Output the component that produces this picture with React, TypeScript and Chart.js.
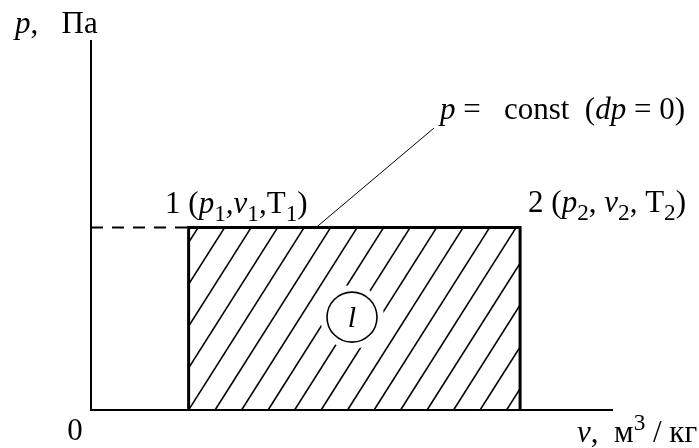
import React, { useEffect, useRef } from "react";
import { Chart, registerables } from "chart.js";

Chart.register(...registerables);

// Axis extents (schematic units)
const V_MAX = 10;
const P_MAX = 10;

// Isobaric process 1 -> 2
const V1 = 1.87;
const V2 = 8.22;
const P1 = 4.93;

// Leader line from the isobar to its caption
const LEADER_V = [4.31, 6.57];
const LEADER_P = [4.93, 7.62];

// Marker of the work area (l)
const WORK_V = 5.0;
const WORK_P = 2.51;

type Run = { t: string; it?: boolean; sub?: boolean; sup?: boolean };

const Y_TITLE: Run[] = [{ t: "p", it: true }, { t: ",   Па" }];
const X_TITLE: Run[] = [{ t: "v", it: true }, { t: ",  м" }, { t: "3", sup: true }, { t: " / кг" }];
const ORIGIN_LABEL: Run[] = [{ t: "0" }];
const POINT_1: Run[] = [
  { t: "1 (" }, { t: "p", it: true }, { t: "1", sub: true }, { t: "," },
  { t: "v", it: true }, { t: "1", sub: true }, { t: "," }, { t: "T" }, { t: "1", sub: true }, { t: ")" },
];
const POINT_2: Run[] = [
  { t: "2 (" }, { t: "p", it: true }, { t: "2", sub: true }, { t: ", " },
  { t: "v", it: true }, { t: "2", sub: true }, { t: ", " }, { t: "T" }, { t: "2", sub: true }, { t: ")" },
];
const ISOBAR_CAPTION: Run[] = [
  { t: "p", it: true }, { t: " =   const  (" }, { t: "dp", it: true }, { t: " = 0)" },
];
const WORK_LABEL: Run[] = [{ t: "l", it: true }];

const FONT = "'Liberation Serif', 'DejaVu Serif', serif";
const SIZE = 31;
const SMALL = 0.75;

function runsWidth(ctx: CanvasRenderingContext2D, runs: Run[], size: number) {
  let w = 0;
  for (const r of runs) {
    const s = r.sub || r.sup ? size * SMALL : size;
    ctx.font = `${r.it ? "italic " : ""}${s}px ${FONT}`;
    w += ctx.measureText(r.t).width;
  }
  return w;
}

function drawRuns(ctx: CanvasRenderingContext2D, runs: Run[], x: number, y: number, size: number) {
  let cx = x;
  ctx.fillStyle = "#000";
  ctx.textBaseline = "alphabetic";
  ctx.textAlign = "left";
  for (const r of runs) {
    const s = r.sub || r.sup ? size * SMALL : size;
    ctx.font = `${r.it ? "italic " : ""}${s}px ${FONT}`;
    const dy = r.sub ? size * 0.27 : r.sup ? -size * 0.4 : 0;
    ctx.fillText(r.t, cx, y + dy);
    cx += ctx.measureText(r.t).width;
  }
}

// Hatching of the work area and the circled "l" marker
const hatchPlugin = {
  id: "hatch",
  beforeDatasetsDraw(chart: any) {
    const { ctx, scales } = chart;
    const x = scales.x, y = scales.y;
    const xl = x.getPixelForValue(V1);
    const xr = x.getPixelForValue(V2);
    const yt = y.getPixelForValue(P1);
    const yb = y.getPixelForValue(0);
    const h = yb - yt;
    const step = 26.5;
    const slope = 1.58;
    ctx.save();
    ctx.beginPath();
    ctx.rect(xl, yt, xr - xl, h);
    ctx.clip();
    ctx.strokeStyle = "#000";
    ctx.lineWidth = 1.6;
    for (let bx = xl - Math.ceil(h / slope / step) * step; bx <= xr; bx += step) {
      ctx.beginPath();
      ctx.moveTo(bx, yb);
      ctx.lineTo(bx + h / slope, yt);
      ctx.stroke();
    }
    ctx.restore();

    const cx = x.getPixelForValue(WORK_V);
    const cy = y.getPixelForValue(WORK_P);
    ctx.save();
    ctx.fillStyle = "#fff";
    ctx.beginPath();
    ctx.arc(cx, cy, 32, 0, Math.PI * 2);
    ctx.fill();
    ctx.strokeStyle = "#000";
    ctx.lineWidth = 1.6;
    ctx.beginPath();
    ctx.arc(cx, cy, 25, 0, Math.PI * 2);
    ctx.stroke();
    const w = runsWidth(ctx, WORK_LABEL, 30);
    drawRuns(ctx, WORK_LABEL, cx - w / 2, cy + 10, 30);
    ctx.restore();
  },
};

// Axis titles and point captions
const labelPlugin = {
  id: "labels",
  afterDatasetsDraw(chart: any) {
    const { ctx, scales } = chart;
    const x = scales.x, y = scales.y;
    const x0 = x.getPixelForValue(0);
    const y0 = y.getPixelForValue(0);
    ctx.save();
    drawRuns(ctx, Y_TITLE, x0 - 76, y.getPixelForValue(P_MAX) - 7, SIZE);
    drawRuns(ctx, X_TITLE, x.getPixelForValue(V_MAX) - 36, y0 + 32, SIZE);
    const ow = runsWidth(ctx, ORIGIN_LABEL, SIZE);
    drawRuns(ctx, ORIGIN_LABEL, x0 - 16 - ow / 2, y0 + 30, SIZE);
    drawRuns(ctx, POINT_1, x.getPixelForValue(V1) - 23.5, y.getPixelForValue(P1) - 14.5, SIZE);
    drawRuns(ctx, POINT_2, x.getPixelForValue(V2) + 8, y.getPixelForValue(P1) - 15.5, SIZE);
    drawRuns(
      ctx,
      ISOBAR_CAPTION,
      x.getPixelForValue(LEADER_V[1]) + 6,
      y.getPixelForValue(LEADER_P[1]) - 9,
      SIZE
    );
    ctx.restore();
  },
};

const line = (pts: { x: number; y: number }[], width: number, extra: any = {}) => ({
  data: pts,
  showLine: true,
  borderColor: "#000",
  backgroundColor: "#000",
  borderWidth: width,
  pointRadius: 0,
  fill: false,
  clip: false,
  borderCapStyle: "butt",
  borderJoinStyle: "miter",
  tension: 0,
  ...extra,
});

export default function App() {
  const ref = useRef<HTMLCanvasElement>(null);

  useEffect(() => {
    const chart = new Chart(ref.current!, {
      type: "scatter",
      data: {
        datasets: [
          // axes
          line([{ x: 0, y: P_MAX }, { x: 0, y: 0 }, { x: V_MAX, y: 0 }], 2),
          // extension of the isobar to the p axis
          line([{ x: 0, y: P1 }, { x: V1, y: P1 }], 2, { borderDash: [12, 9] }),
          // process boundary
          line(
            [{ x: V1, y: 0 }, { x: V1, y: P1 }, { x: V2, y: P1 }, { x: V2, y: 0 }],
            3
          ),
          // leader to the caption
          line(
            [{ x: LEADER_V[0], y: LEADER_P[0] }, { x: LEADER_V[1], y: LEADER_P[1] }],
            1
          ),
        ] as any,
      },
      options: {
        animation: false,
        responsive: false,
        events: [],
        layout: { padding: { left: 91, right: 86, top: 40, bottom: 38 } },
        plugins: { legend: { display: false }, tooltip: { enabled: false } },
        scales: {
          x: { type: "linear", display: false, min: 0, max: V_MAX },
          y: { type: "linear", display: false, min: 0, max: P_MAX },
        },
      },
      plugins: [hatchPlugin, labelPlugin],
    });
    return () => chart.destroy();
  }, []);

  return (
    <div style={{ position: "fixed", left: 0, top: 0, width: 699, height: 448, background: "#fff" }}>
      <canvas ref={ref} width={699} height={448} style={{ display: "block" }} />
    </div>
  );
}
